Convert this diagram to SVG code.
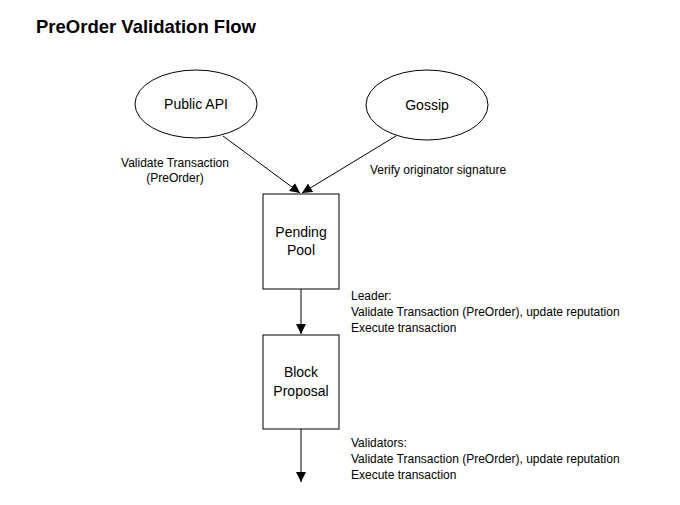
<svg xmlns="http://www.w3.org/2000/svg" width="680" height="505" viewBox="0 0 680 505">
<defs>
<marker id="arr" viewBox="0 0 10 10" refX="10" refY="5" markerWidth="10" markerHeight="10" markerUnits="userSpaceOnUse" orient="auto">
<path d="M0,0 L10,5 L0,10 Z" fill="#000"/>
</marker>
<style>
.shape{fill:#fff;stroke:#000;stroke-width:1}
.lbl{font-family:"Liberation Sans",Arial,sans-serif;font-size:14px;fill:#000;text-anchor:middle}
.note{font-family:"Liberation Sans",Arial,sans-serif;font-size:12px;fill:#000}
.edge{fill:none;stroke:#000;stroke-width:1;marker-end:url(#arr)}
</style>
</defs>
<rect width="680" height="505" fill="#fff"/>
<text x="36" y="33" font-family="'Liberation Sans',Arial,sans-serif" font-size="18.5" font-weight="bold" fill="#000">PreOrder Validation Flow</text>
<g id="connectors">
<line class="edge" x1="223" y1="136" x2="300" y2="193"/>
<line class="edge" x1="396" y1="136" x2="302" y2="193"/>
<line class="edge" x1="301" y1="289" x2="301" y2="334"/>
<line class="edge" x1="301" y1="429" x2="301" y2="482"/>
</g>
<g id="public-api">
<ellipse class="shape" cx="196" cy="104" rx="61" ry="34"/>
<text class="lbl" x="196" y="109">Public API</text>
</g>
<g id="gossip">
<ellipse class="shape" cx="427" cy="105" rx="61" ry="35"/>
<text class="lbl" x="427" y="110">Gossip</text>
</g>
<g id="pending-pool">
<rect class="shape" x="263" y="194" width="76" height="95"/>
<text class="lbl" x="301" y="237">Pending</text>
<text class="lbl" x="301" y="255">Pool</text>
</g>
<g id="block-proposal">
<rect class="shape" x="263" y="335" width="76" height="94"/>
<text class="lbl" x="301" y="377">Block</text>
<text class="lbl" x="301" y="396">Proposal</text>
</g>
<g id="labels">
<text class="note" x="175" y="167" text-anchor="middle">Validate Transaction</text>
<text class="note" x="175" y="182" text-anchor="middle">(PreOrder)</text>
<text class="note" x="370" y="174">Verify originator signature</text>
<text class="note" x="351" y="300">Leader:</text>
<text class="note" x="351" y="316">Validate Transaction (PreOrder), update reputation</text>
<text class="note" x="351" y="332">Execute transaction</text>
<text class="note" x="351" y="447">Validators:</text>
<text class="note" x="351" y="463">Validate Transaction (PreOrder), update reputation</text>
<text class="note" x="351" y="479">Execute transaction</text>
</g>
</svg>
